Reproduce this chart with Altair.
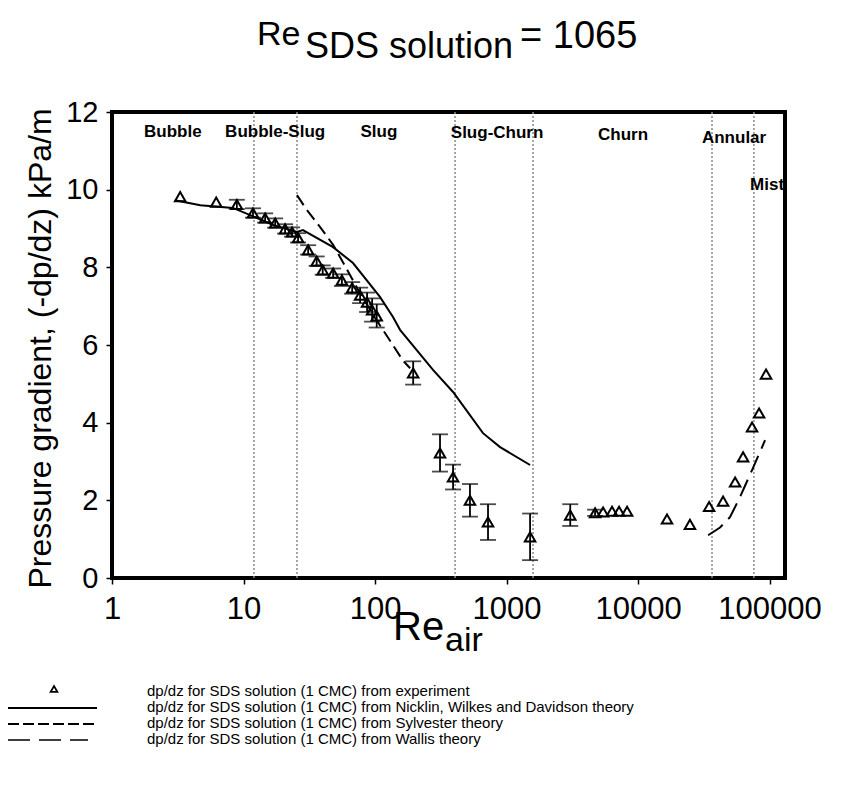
import altair as alt
import pandas as pd

FONT = "Liberation Sans"

# Experimental data (Re_air, -dp/dz kPa/m, error half-width)
re_exp = [3.3, 6.2, 8.9, 11.8, 14.6, 17.4, 20.7, 23.4, 26, 31, 36, 40, 48, 56, 67, 77, 87, 95, 103,
          195, 312, 392, 527, 723, 1510, 3050, 4710, 5420, 6340, 7170, 8250, 16600, 24800,
          34700, 44300, 54700, 62900, 73600, 83200, 94000]
dp_exp = [9.82, 9.68, 9.62, 9.4, 9.27, 9.14, 8.99, 8.91, 8.76, 8.45, 8.16, 7.93, 7.85, 7.67, 7.47,
          7.28, 7.1, 6.9, 6.75, 5.28, 3.22, 2.6, 2.0, 1.44, 1.06, 1.62, 1.68, 1.7, 1.72, 1.72, 1.72,
          1.52, 1.38, 1.84, 1.98, 2.47, 3.12, 3.89, 4.25, 5.25]
err_exp = [0, 0, 0.12, 0.12, 0.12, 0.12, 0.12, 0.12, 0.12, 0.12, 0.12, 0.12, 0.12, 0.15, 0.15,
           0.2, 0.25, 0.3, 0.3, 0.3, 0.48, 0.32, 0.42, 0.46, 0.6, 0.28, 0.08, 0, 0, 0, 0,
           0, 0, 0, 0, 0, 0, 0, 0, 0]

# Nicklin, Wilkes and Davidson theory
nwd_re = [3.0, 4.7, 8.3, 12.7, 16.8, 25.5, 28.3, 48, 68, 109, 137, 155, 276, 392, 662, 893, 1510]
nwd_dp = [9.73, 9.6, 9.53, 9.27, 9.09, 8.91, 8.96, 8.52, 8.11, 7.24, 6.72, 6.39, 5.36, 4.79, 3.73, 3.37, 2.91]

# Sylvester theory
syl_re = [25.5, 30, 38, 48, 60, 75, 100, 125, 163, 185]
syl_dp = [9.86, 9.5, 9.05, 8.58, 8.0, 7.4, 6.7, 6.2, 5.6, 5.4]

# Wallis theory
wal_re = [34100, 42000, 50100, 59700, 73600, 87700, 92400]
wal_dp = [1.1, 1.3, 1.57, 2.09, 2.78, 3.37, 3.55]

# Flow regimes
regime_bounds = [12, 25.5, 406, 1590, 36500, 76000]
regime_names = ["Bubble", "Bubble-Slug", "Slug", "Slug-Churn", "Churn", "Annular", "Mist"]
regime_x = [2.9, 17.4, 107, 847, 7690, 53700, 95700]
regime_y = [11.49, 11.49, 11.49, 11.47, 11.4, 11.33, 10.12]

x_ticks = [1, 10, 100, 1000, 10000, 100000]
y_ticks = [0, 2, 4, 6, 8, 10, 12]

legend_texts = [
    "dp/dz for SDS solution (1 CMC) from experiment",
    "dp/dz for SDS solution (1 CMC) from Nicklin, Wilkes and Davidson theory",
    "dp/dz for SDS solution (1 CMC) from Sylvester theory",
    "dp/dz for SDS solution (1 CMC) from Wallis theory",
]

W, H = 673, 466

xscale = alt.Scale(type="log", domain=[1, 131000], nice=False)
yscale = alt.Scale(domain=[0, 12], nice=False, zero=False)

exp_df = pd.DataFrame({"re": re_exp, "dp": dp_exp, "err": err_exp})
exp_df["lo"] = exp_df["dp"] - exp_df["err"]
exp_df["hi"] = exp_df["dp"] + exp_df["err"]
err_df = exp_df[exp_df["err"] > 0]

X = alt.X("re:Q", scale=xscale,
          axis=alt.Axis(values=x_ticks, format="d", title=None, grid=False,
                        labelFontSize=31, labelFont=FONT, labelColor="black",
                        tickSize=6, tickWidth=1.5, tickColor="black", labelPadding=10,
                        domain=False, labelFlush=False))
Y = alt.Y("dp:Q", scale=yscale,
          axis=alt.Axis(values=y_ticks, format="d", grid=False,
                        title="Pressure gradient, (-dp/dz) kPa/m",
                        titleFontSize=32, titleFont=FONT, titleFontWeight="normal",
                        titleX=-72, titleY=236, titleAlign="center", titleBaseline="middle",
                        titleColor="black",
                        labelFontSize=29, labelFont=FONT, labelColor="black",
                        tickSize=6, tickWidth=1.5, tickColor="black", labelPadding=8,
                        domain=False))

regime_rules = alt.Chart(pd.DataFrame({"re": regime_bounds})).mark_rule(
    color="#8a8a8a", strokeWidth=1.5, strokeDash=[2, 2]
).encode(x=X)

regime_text = alt.Chart(pd.DataFrame({"re": regime_x, "dp": regime_y, "name": regime_names})).mark_text(
    font=FONT, fontSize=17, fontWeight="bold", color="black", align="center", baseline="middle"
).encode(x=X, y=Y, text="name:N")

def line_layer(xs, ys, dash=None):
    kw = dict(color="black", strokeWidth=2)
    if dash:
        kw["strokeDash"] = dash
    return alt.Chart(pd.DataFrame({"re": xs, "dp": ys})).mark_line(**kw).encode(x=X, y=Y)

nwd = line_layer(nwd_re, nwd_dp)
syl = line_layer(syl_re, syl_dp, [12, 6])
wal = line_layer(wal_re, wal_dp, [18, 8])

err_rule = alt.Chart(err_df).mark_rule(color="black", strokeWidth=1.8).encode(
    x=X, y=alt.Y("lo:Q", scale=yscale), y2="hi:Q")
cap_lo = alt.Chart(err_df).mark_tick(color="black", orient="horizontal", size=16, thickness=1.8).encode(
    x=X, y=alt.Y("lo:Q", scale=yscale))
cap_hi = alt.Chart(err_df).mark_tick(color="black", orient="horizontal", size=16, thickness=1.8).encode(
    x=X, y=alt.Y("hi:Q", scale=yscale))

pts = alt.Chart(exp_df).mark_point(
    shape="triangle-up", filled=False, size=110, color="black", strokeWidth=2, opacity=1
).encode(x=X, y=Y)

# Title pieces (Re_{SDS solution} = 1065)
def txt(text, x, y, size, align="left", baseline="alphabetic"):
    return alt.Chart(pd.DataFrame({"t": [text]})).mark_text(
        font=FONT, fontSize=size, color="black", align=align, baseline=baseline
    ).encode(x=alt.value(x), y=alt.value(y), text="t:N")

title_re = txt("Re", 145, -67, 34)
title_sub = txt("SDS solution", 193, -54, 36)
title_eq = txt("= 1065", 408, -64, 38)

xt_re = txt("Re", 281, 528, 40)
xt_sub = txt("air", 333, 539, 34)

# Legend
leg_y = [579, 595, 611, 627]
leg_df = pd.DataFrame({"t": legend_texts, "y": leg_y})
leg_text = alt.Chart(leg_df).mark_text(
    font=FONT, fontSize=15, color="black", align="left", baseline="middle"
).encode(x=alt.value(35), y=alt.Y("y:Q", scale=None), text="t:N")
leg_tri = alt.Chart(pd.DataFrame({"a": [0]})).mark_point(
    shape="triangle-up", filled=False, size=45, color="black", strokeWidth=1.8, opacity=1
).encode(x=alt.value(-58), y=alt.value(577))
leg_solid = alt.Chart(pd.DataFrame({"a": [0]})).mark_rule(color="black", strokeWidth=2).encode(
    x=alt.value(-104), x2=alt.value(-15), y=alt.value(596))
leg_dash = alt.Chart(pd.DataFrame({"a": [0]})).mark_rule(color="black", strokeWidth=2, strokeDash=[11, 4]).encode(
    x=alt.value(-104), x2=alt.value(-15), y=alt.value(612))
leg_long = alt.Chart(pd.DataFrame({"a": [0]})).mark_rule(color="black", strokeWidth=1.5, strokeDash=[22, 9]).encode(
    x=alt.value(-104), x2=alt.value(-24), y=alt.value(628))

chart = alt.layer(
    regime_rules, regime_text, nwd, syl, wal, err_rule, cap_lo, cap_hi, pts,
    title_re, title_sub, title_eq, xt_re, xt_sub,
    leg_text, leg_tri, leg_solid, leg_dash, leg_long
).properties(
    width=W, height=H,
    autosize=alt.AutoSizeParams(type="none"),
    padding={"left": 112, "top": 112, "right": 60, "bottom": 207},
    background="white",
).configure_view(
    stroke="black", strokeWidth=4
)

chart.save("out.html", embed_options={"renderer": "svg", "actions": False})
